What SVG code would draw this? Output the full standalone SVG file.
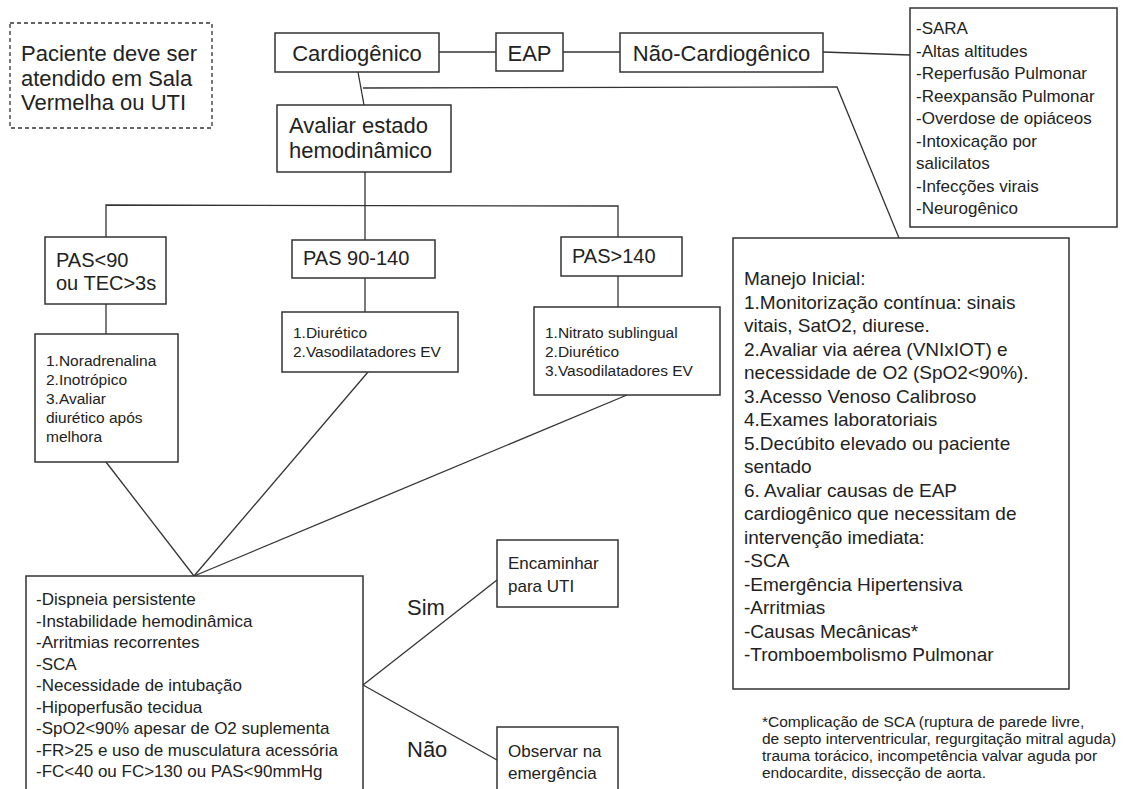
<svg xmlns="http://www.w3.org/2000/svg" width="1123" height="789" viewBox="0 0 1123 789">
<style>
.box{fill:#fff;stroke:#333;stroke-width:1.5}
.dash{fill:#fff;stroke:#333;stroke-width:1.3;stroke-dasharray:4 3}
.ln{fill:none;stroke:#333;stroke-width:1.3}
text{font-family:"Liberation Sans",Arial,sans-serif;fill:#222}
.t22{font-size:22px}
.t20{font-size:20px}
.t19{font-size:19px}
.t17{font-size:17px}
.t15{font-size:15.5px}
</style>
<rect width="1123" height="789" fill="#fff"/>
<g id="connectors">
<line class="ln" x1="439" y1="52" x2="496" y2="52"/>
<line class="ln" x1="563" y1="52" x2="620" y2="52"/>
<line class="ln" x1="823" y1="52" x2="910" y2="55"/>
<line class="ln" x1="358" y1="72" x2="364" y2="105"/>
<polyline class="ln" points="363,88 837,87 899,238"/>
<line class="ln" x1="365" y1="172" x2="365" y2="240"/>
<polyline class="ln" points="106,237 106,205 618,206 618,237"/>
<line class="ln" x1="106" y1="304" x2="106" y2="334"/>
<line class="ln" x1="365" y1="278" x2="365" y2="312"/>
<line class="ln" x1="618" y1="276" x2="618" y2="307"/>
<line class="ln" x1="106" y1="462" x2="194" y2="576"/>
<line class="ln" x1="368" y1="372" x2="194" y2="576"/>
<line class="ln" x1="627" y1="395" x2="194" y2="576"/>
<line class="ln" x1="363" y1="685" x2="497" y2="580"/>
<line class="ln" x1="363" y1="685" x2="497" y2="760"/>
</g>
<g id="note-sala">
<rect class="dash" x="10" y="23" width="202" height="105"/>
<text class="t22" x="21" y="61">Paciente deve ser</text>
<text class="t22" x="21" y="85.5">atendido em Sala</text>
<text class="t22" x="21" y="110">Vermelha ou UTI</text>
</g>
<g id="cardiogenico">
<rect class="box" x="275" y="33" width="164" height="39"/>
<text class="t22" x="357" y="61" text-anchor="middle">Cardiogênico</text>
</g>
<g id="eap">
<rect class="box" x="496" y="33" width="67" height="38"/>
<text class="t22" x="529.5" y="61" text-anchor="middle">EAP</text>
</g>
<g id="nao-cardiogenico">
<rect class="box" x="620" y="33" width="203" height="39"/>
<text class="t22" x="721.5" y="61" text-anchor="middle">Não-Cardiogênico</text>
</g>
<g id="causas-nao-cardio">
<rect class="box" x="910" y="8" width="207" height="219"/>
<text class="t17" x="916">
<tspan x="916" y="34">-SARA</tspan>
<tspan x="916" y="56.5">-Altas altitudes</tspan>
<tspan x="916" y="79">-Reperfusão Pulmonar</tspan>
<tspan x="916" y="101.5">-Reexpansão Pulmonar</tspan>
<tspan x="916" y="124">-Overdose de opiáceos</tspan>
<tspan x="916" y="146.5">-Intoxicação por</tspan>
<tspan x="916" y="169">salicilatos</tspan>
<tspan x="916" y="191.5">-Infecções virais</tspan>
<tspan x="916" y="214">-Neurogênico</tspan>
</text>
</g>
<g id="avaliar">
<rect class="box" x="277" y="105" width="174" height="67"/>
<text class="t22" x="289" y="133">Avaliar estado</text>
<text class="t22" x="289" y="158">hemodinâmico</text>
</g>
<g id="pas-baixa">
<rect class="box" x="45" y="237" width="121" height="67"/>
<text class="t20" x="56" y="267">PAS&lt;90</text>
<text class="t20" x="56" y="290">ou TEC&gt;3s</text>
</g>
<g id="pas-normal">
<rect class="box" x="292" y="240" width="143" height="38"/>
<text class="t20" x="303" y="265">PAS 90-140</text>
</g>
<g id="pas-alta">
<rect class="box" x="561" y="237" width="121" height="39"/>
<text class="t20" x="572" y="263">PAS&gt;140</text>
</g>
<g id="trat-baixa">
<rect class="box" x="35" y="334" width="143" height="128"/>
<text class="t15">
<tspan x="46" y="366">1.Noradrenalina</tspan>
<tspan x="46" y="385">2.Inotrópico</tspan>
<tspan x="46" y="404">3.Avaliar</tspan>
<tspan x="46" y="423">diurético após</tspan>
<tspan x="46" y="442">melhora</tspan>
</text>
</g>
<g id="trat-normal">
<rect class="box" x="282" y="312" width="176" height="60"/>
<text class="t15">
<tspan x="293" y="338">1.Diurético</tspan>
<tspan x="293" y="357">2.Vasodilatadores EV</tspan>
</text>
</g>
<g id="trat-alta">
<rect class="box" x="534" y="307" width="186" height="88"/>
<text class="t15">
<tspan x="545" y="338">1.Nitrato sublingual</tspan>
<tspan x="545" y="357">2.Diurético</tspan>
<tspan x="545" y="376">3.Vasodilatadores EV</tspan>
</text>
</g>
<g id="criterios-uti">
<rect class="box" x="26" y="576" width="337" height="220"/>
<text class="t17">
<tspan x="36" y="605">-Dispneia persistente</tspan>
<tspan x="36" y="626.5">-Instabilidade hemodinâmica</tspan>
<tspan x="36" y="648">-Arritmias recorrentes</tspan>
<tspan x="36" y="669.5">-SCA</tspan>
<tspan x="36" y="691">-Necessidade de intubação</tspan>
<tspan x="36" y="712.5">-Hipoperfusão tecidua</tspan>
<tspan x="36" y="734">-SpO2&lt;90% apesar de O2 suplementa</tspan>
<tspan x="36" y="755.5">-FR&gt;25 e uso de musculatura acessória</tspan>
<tspan x="36" y="777">-FC&lt;40 ou FC&gt;130 ou PAS&lt;90mmHg</tspan>
</text>
</g>
<g id="label-sim"><text class="t22" x="407" y="615">Sim</text></g>
<g id="label-nao"><text class="t22" x="407" y="757">Não</text></g>
<g id="encaminhar-uti">
<rect class="box" x="497" y="540" width="121" height="67"/>
<text class="t17" x="508" y="569">Encaminhar</text>
<text class="t17" x="508" y="592">para UTI</text>
</g>
<g id="observar">
<rect class="box" x="497" y="727" width="121" height="70"/>
<text class="t17" x="508" y="757">Observar na</text>
<text class="t17" x="508" y="779">emergência</text>
</g>
<g id="manejo-inicial">
<rect class="box" x="733" y="238" width="336" height="451"/>
<text class="t19">
<tspan x="744" y="285">Manejo Inicial:</tspan>
<tspan x="744" y="308.5">1.Monitorização contínua: sinais</tspan>
<tspan x="744" y="332">vitais, SatO2, diurese.</tspan>
<tspan x="744" y="355.5">2.Avaliar via aérea (VNIxIOT) e</tspan>
<tspan x="744" y="379">necessidade de O2 (SpO2&lt;90%).</tspan>
<tspan x="744" y="402.5">3.Acesso Venoso Calibroso</tspan>
<tspan x="744" y="426">4.Exames laboratoriais</tspan>
<tspan x="744" y="449.5">5.Decúbito elevado ou paciente</tspan>
<tspan x="744" y="473">sentado</tspan>
<tspan x="744" y="496.5">6. Avaliar causas de EAP</tspan>
<tspan x="744" y="520">cardiogênico que necessitam de</tspan>
<tspan x="744" y="543.5">intervenção imediata:</tspan>
<tspan x="744" y="567">-SCA</tspan>
<tspan x="744" y="590.5">-Emergência Hipertensiva</tspan>
<tspan x="744" y="614">-Arritmias</tspan>
<tspan x="744" y="637.5">-Causas Mecânicas*</tspan>
<tspan x="744" y="661">-Tromboembolismo Pulmonar</tspan>
</text>
</g>
<g id="nota-rodape">
<text class="t15">
<tspan x="762" y="727">*Complicação de SCA (ruptura de parede livre,</tspan>
<tspan x="762" y="744">de septo interventricular, regurgitação mitral aguda)</tspan>
<tspan x="762" y="761">trauma torácico, incompetência valvar aguda por</tspan>
<tspan x="762" y="778">endocardite, dissecção de aorta.</tspan>
</text>
</g>
</svg>
